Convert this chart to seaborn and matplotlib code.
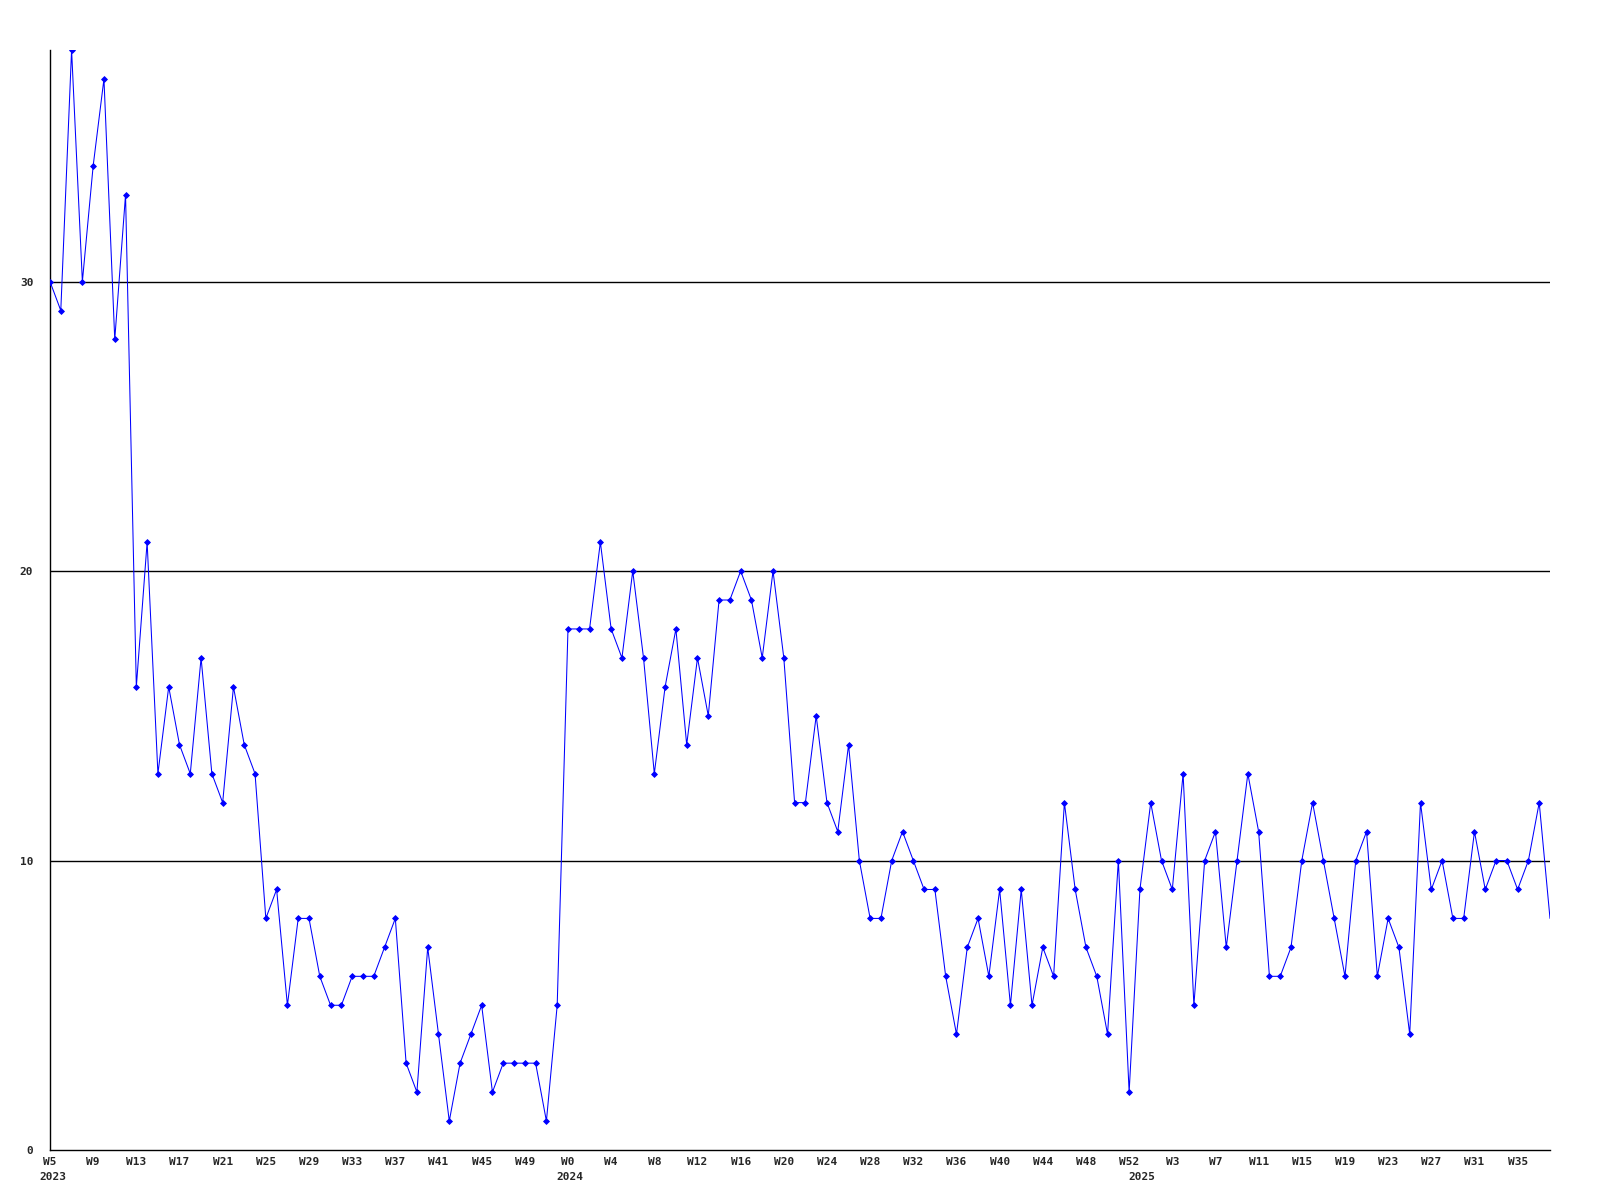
import numpy as np
import pandas as pd
import matplotlib
matplotlib.use("Agg")
import matplotlib.pyplot as plt
import seaborn as sns

# ---- data ----
values_2023 = [30, 29, 38, 30, 34, 37, 28, 33, 16, 21, 13, 16, 14, 13, 17, 13,
               12, 16, 14, 13, 8, 9, 5, 8, 8, 6, 5, 5, 6, 6, 6, 7,
               8, 3, 2, 7, 4, 1, 3, 4, 5, 2, 3, 3, 3, 3, 1, 5]
values_2024 = [18, 18, 18, 21, 18, 17, 20, 17, 13, 16, 18, 14, 17, 15, 19, 19,
               20, 19, 17, 20, 17, 12, 12, 15, 12, 11, 14, 10, 8, 8, 10, 11,
               10, 9, 9, 6, 4, 7, 8, 6, 9, 5, 9, 5, 7, 6, 12, 9,
               7, 6, 4, 10, 2]
values_2025 = [9, 12, 10, 9, 13, 5, 10, 11, 7, 10, 13, 11, 6, 6, 7, 10, 12,
               10, 8, 6, 10, 11, 6, 8, 7, 4, 12, 9, 10, 8, 8, 11, 9,
               10, 10, 9, 10, 12, 8]

tick_labels = (["W%d" % w for w in range(5, 50, 4)]
               + ["W%d" % w for w in range(0, 53, 4)]
               + ["W%d" % w for w in range(3, 36, 4)])
year_labels = ["2023", "2024", "2025"]
y_ticks = [0, 10, 20, 30]

values = values_2023 + values_2024 + values_2025
x = np.arange(len(values))
df = pd.DataFrame({"idx": x, "value": values})

year_start = [0, len(values_2023), len(values_2023) + len(values_2024)]

# ---- plot ----
sns.set_style("white")
plt.rcParams["font.family"] = ["DejaVu Sans Mono", "DejaVu Sans"]

fig = plt.figure(figsize=(16, 12), dpi=100)
ax = fig.add_axes([50 / 1600, 1 - 1150 / 1200, 1500 / 1600, 1100 / 1200])

for yv in y_ticks[1:]:
    ax.axhline(yv, color="black", lw=1.0, zorder=1)

sns.lineplot(data=df, x="idx", y="value", ax=ax, color="#0000ff", lw=0.75,
             marker="D", markersize=3.0, markeredgewidth=0.6,
             markeredgecolor="#0000ff", markerfacecolor="#0000ff",
             markevery=list(range(len(values) - 1)), zorder=3)

ax.set_xlim(0, len(values) - 1)
ax.set_ylim(0, 38)

ax.set_xticks(x[::4][:len(tick_labels)])
ax.set_xticklabels(tick_labels, fontsize=8, fontweight="bold")
ax.set_yticks(y_ticks)
ax.set_yticklabels([str(v) for v in y_ticks], fontsize=8, fontweight="bold")
ax.tick_params(axis="x", length=0, pad=5)
ax.tick_params(axis="y", length=0, pad=12)

for xs, yl in zip(year_start, year_labels):
    ax.annotate(yl, xy=(xs, 0), xycoords=("data", "axes fraction"),
                xytext=(-8, -19.5), textcoords="offset points",
                ha="left", va="center", fontsize=8, fontweight="bold")

ax.set_xlabel("")
ax.set_ylabel("")
for s in ["top", "right"]:
    ax.spines[s].set_visible(False)
for s in ["left", "bottom"]:
    ax.spines[s].set_color("black")
    ax.spines[s].set_linewidth(1.0)

fig.savefig("out.png", dpi=100, facecolor="white")
